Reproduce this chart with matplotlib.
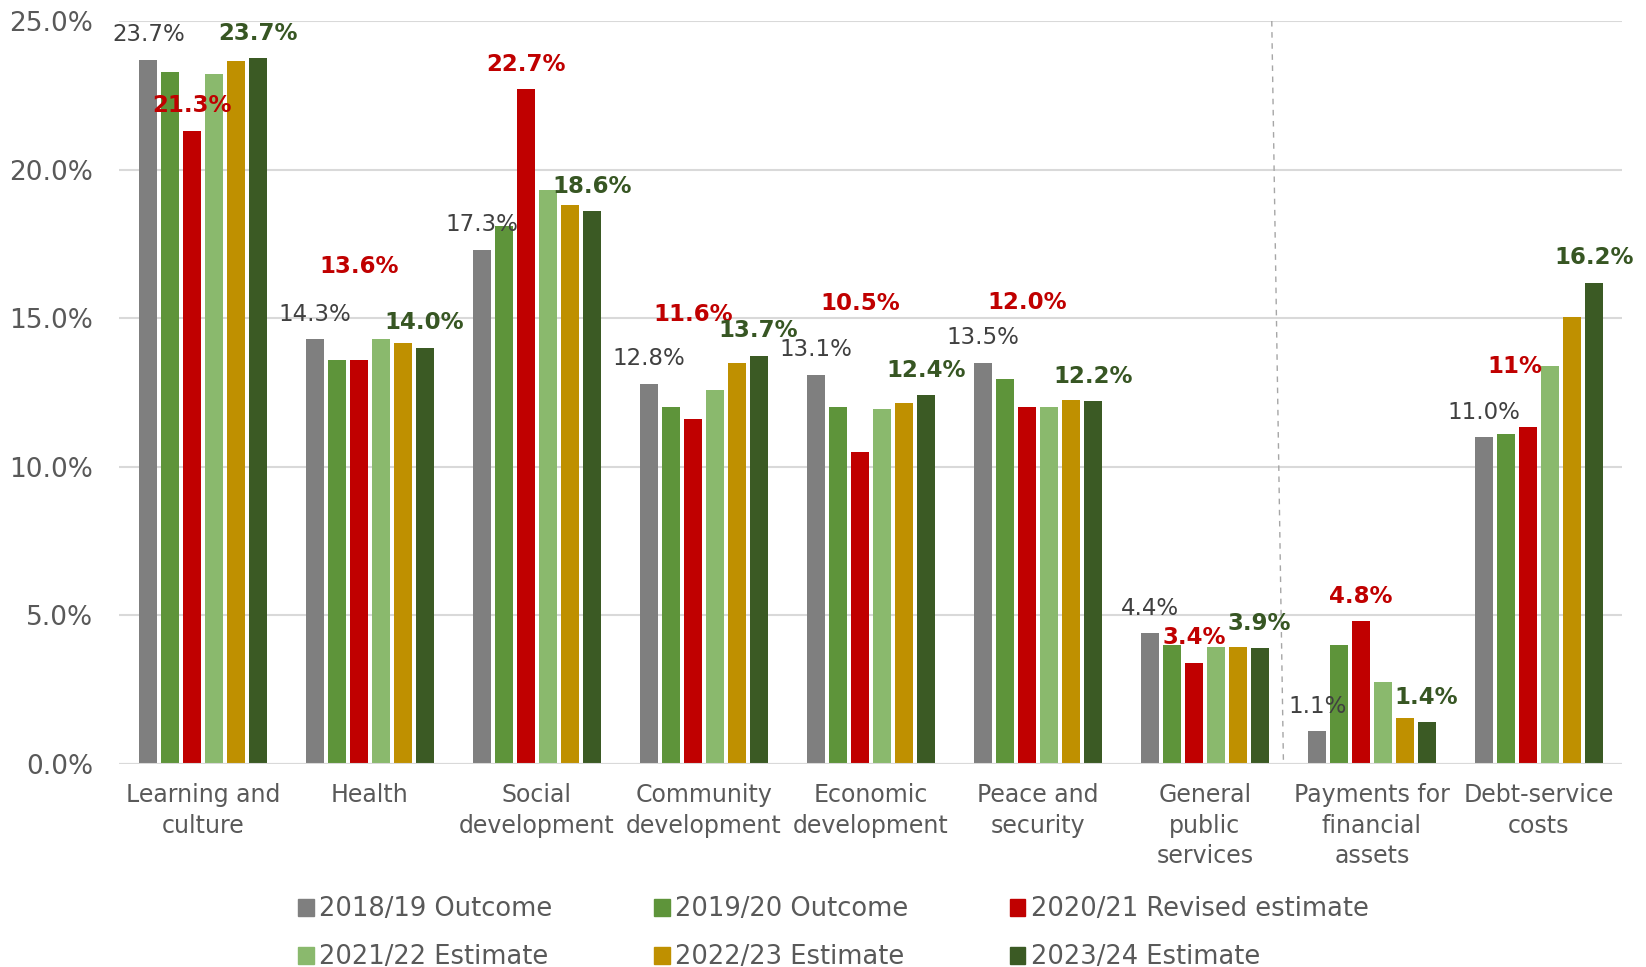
import matplotlib
matplotlib.use('agg')

import numpy as np
import matplotlib.pyplot as plt
from matplotlib.patches import Patch
from matplotlib.ticker import FuncFormatter


categories = ['Learning and\nculture', 'Health', 'Social\ndevelopment',
              'Community\ndevelopment', 'Economic\ndevelopment',
              'Peace and\nsecurity', 'General\npublic\nservices',
              'Payments for\nfinancial\nassets', 'Debt-service\ncosts']

series_names = ['2018/19 Outcome', '2019/20 Outcome', '2020/21 Revised estimate',
                '2021/22 Estimate', '2022/23 Estimate', '2023/24 Estimate']

outcome_1819 = [23.7, 14.3, 17.3, 12.8, 13.1, 13.5, 4.4, 1.1, 11.0]
outcome_1920 = [23.3, 13.6, 18.1, 12.0, 12.0, 12.95, 4.0, 4.0, 11.1]
revised_2021 = [21.3, 13.6, 22.7, 11.6, 10.5, 12.0, 3.4, 4.8, 11.35]
estimate_2122 = [23.2, 14.3, 19.3, 12.6, 11.95, 12.0, 3.95, 2.75, 13.4]
estimate_2223 = [23.65, 14.15, 18.8, 13.5, 12.15, 12.25, 3.95, 1.55, 15.05]
estimate_2324 = [23.74, 14.0, 18.6, 13.73, 12.4, 12.2, 3.9, 1.4, 16.2]

colors = ['#7f7f7f', '#5e943a', '#c00000', '#8ab96d', '#bf9000', '#3b5a24']

# Excel labels that were dragged by hand: extra lift in % points, and x shift
red_lift = {1: 2.3, 3: 2.7, 4: 4.15, 5: 2.7, 8: 1.2}
red_shift = {8: -0.08}

TXT = '#595959'
plt.rcParams['font.family'] = ['DejaVu Sans']

fig = plt.figure(figsize=(16.46, 9.67), dpi=100)
ax = fig.add_axes([0.0726, 0.2099, 0.9131, 0.7684])

values = [outcome_1819, outcome_1920, revised_2021,
          estimate_2122, estimate_2223, estimate_2324]
x = np.arange(len(categories))
step = 0.131
width = 0.108

for k, vals in enumerate(values):
    ax.bar(x + (k - 2.5) * step, vals, width, color=colors[k], zorder=3)

# data labels for three of the series
for i, v in enumerate(outcome_1819):
    ax.annotate(f'{v:.1f}%', (x[i] - 2.5 * step, v), xytext=(0, 18),
                textcoords='offset points', ha='center', va='center',
                fontsize=16.5, color='#404040', zorder=5)

for i, v in enumerate(revised_2021):
    txt = '11%' if i == 8 else f'{v:.1f}%'
    ax.annotate(txt, (x[i] - 0.5 * step + red_shift.get(i, 0), v + red_lift.get(i, 0)),
                xytext=(0, 18), textcoords='offset points', ha='center',
                va='center', fontsize=16.5, fontweight='bold', color='#c00000', zorder=5)

for i, v in enumerate(estimate_2324):
    ax.annotate(f'{v:.1f}%', (x[i] + 2.5 * step, v), xytext=(0, 18),
                textcoords='offset points', ha='center', va='center',
                fontsize=16.5, fontweight='bold', color='#375623', zorder=5)

# dashed divider between spending and financing items
ax.plot([6.40, 6.47], [25, 0], ls=(0, (4, 4)), color='#a6a6a6', lw=1, zorder=2)

ax.set_xlim(-0.5, len(categories) - 0.5)
ax.set_ylim(0, 25)
ax.set_yticks(np.arange(0, 26, 5))
ax.yaxis.set_major_formatter(FuncFormatter(lambda v, p: f'{v:.1f}%'))
ax.grid(axis='y', color='#d9d9d9', lw=1.5, zorder=0)
ax.set_xticks(x)
ax.set_xticklabels(categories, fontsize=17, color=TXT, linespacing=1.32)
ax.tick_params(axis='x', length=0, pad=14)
ax.tick_params(axis='y', length=0, pad=19, labelsize=19, labelcolor=TXT)
for s in ax.spines.values():
    s.set_visible(False)
ax.axhline(0, color='#d9d9d9', lw=1.5, zorder=4)

# legend fills by column, so reorder to read across rows
order = [0, 3, 1, 4, 2, 5]
handles = [Patch(color=colors[k]) for k in order]
labels = [series_names[k] for k in order]
fig.legend(handles, labels, loc='upper left', bbox_to_anchor=(0.181, 0.073),
           ncol=3, frameon=False, fontsize=18.5, labelcolor=TXT,
           handlelength=0.62, handleheight=0.62, handletextpad=0.2,
           columnspacing=3.95, labelspacing=0.85, borderpad=0, borderaxespad=0)

fig.savefig('out.png', dpi=100)
